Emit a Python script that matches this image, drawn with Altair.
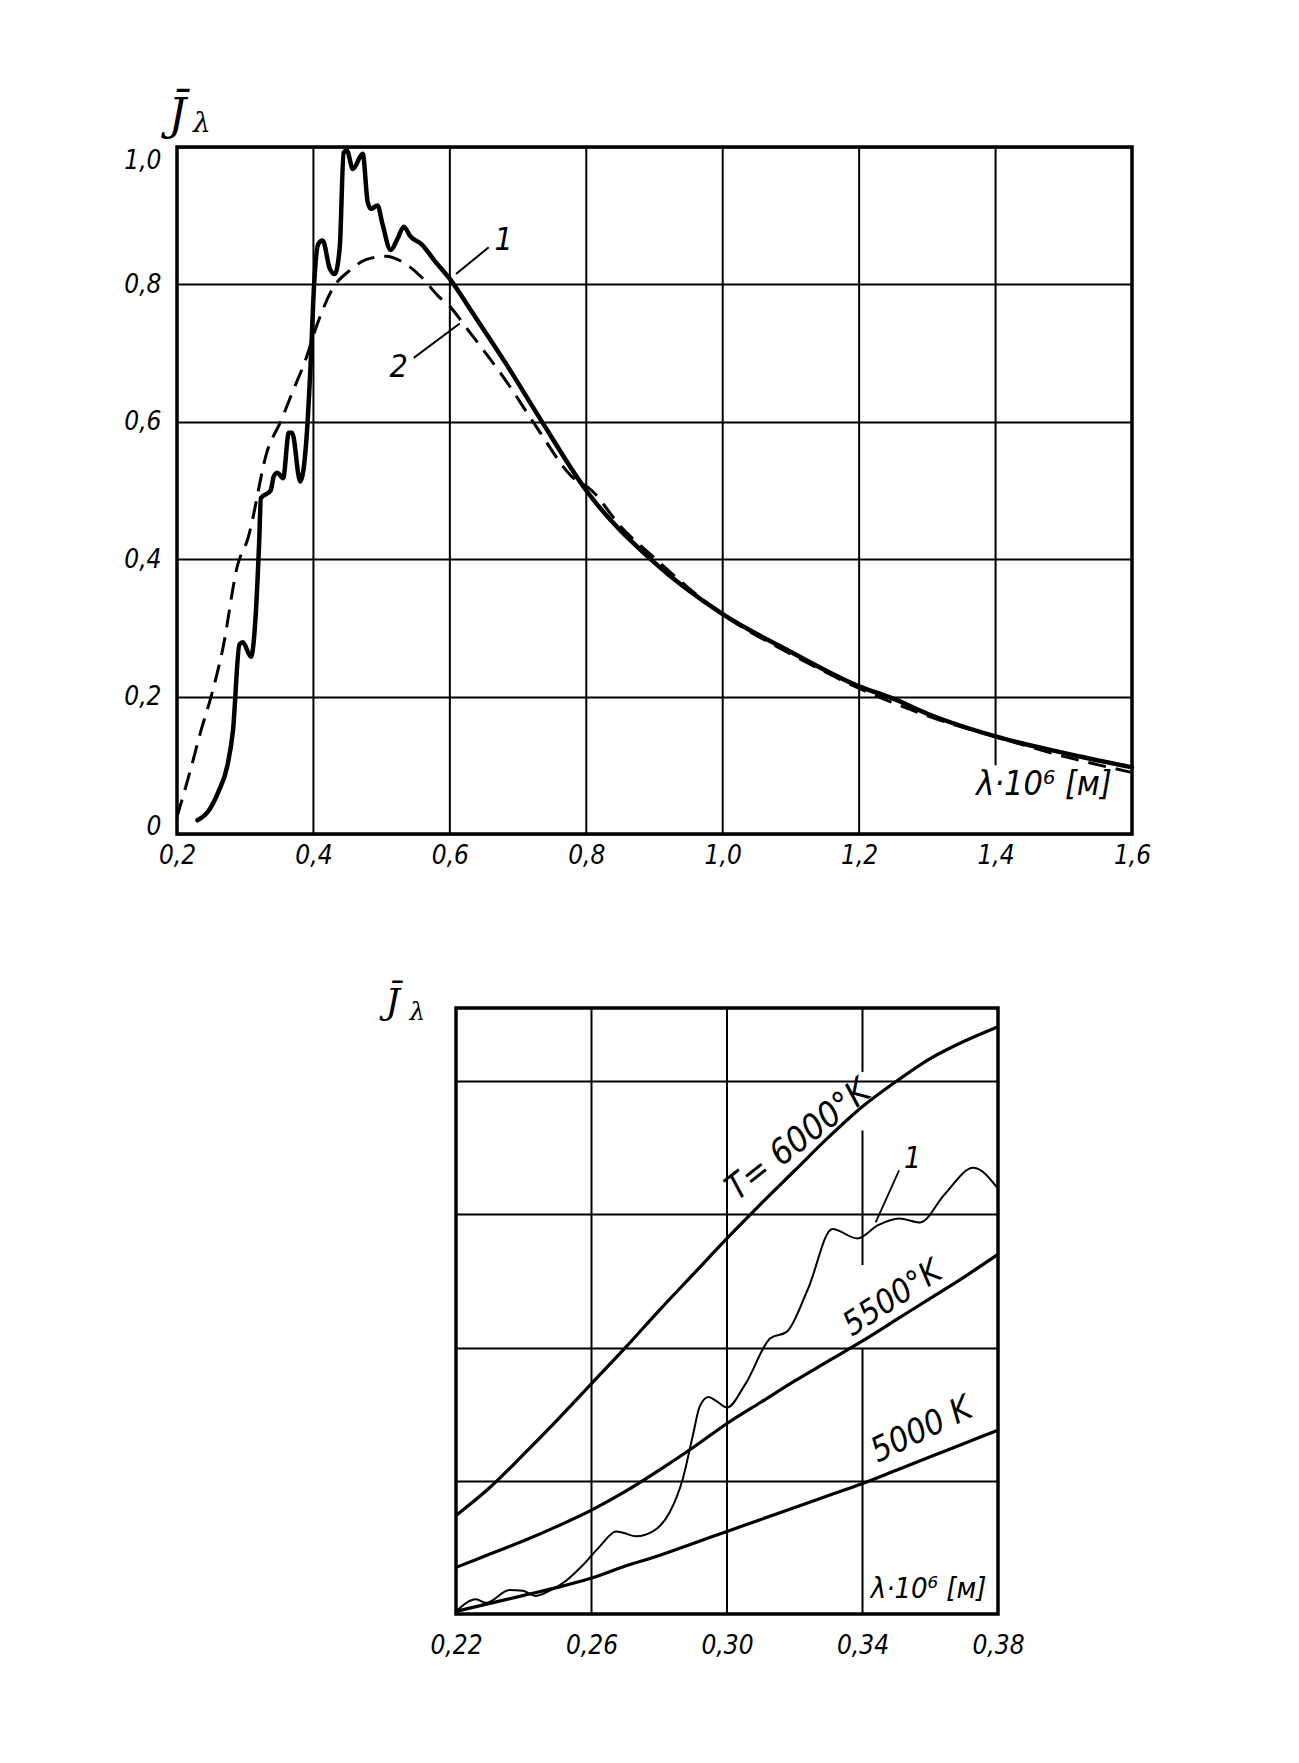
import altair as alt
import pandas as pd

FONT = "DejaVu Sans Condensed, DejaVu Sans, sans-serif"
SERIF = "DejaVu Serif, serif"

# ---------------- top chart data (lambda*1e6 m, normalised intensity) ----------------
top_x_ticks = [0.2, 0.4, 0.6, 0.8, 1.0, 1.2, 1.4, 1.6]
top_y_ticks = [0.0, 0.2, 0.4, 0.6, 0.8, 1.0]
# inner vertical grid lines (the 1.4 line stops above the axis caption)
top_vgrid_x = [0.4, 0.6, 0.8, 1.0, 1.2, 1.4]
top_vgrid_lo = [0.0, 0.0, 0.0, 0.0, 0.0, 0.10]
top_vgrid_hi = [1.0, 1.0, 1.0, 1.0, 1.0, 1.0]

solid_x = [0.230, 0.245, 0.260, 0.274, 0.282, 0.2916, 0.2964, 0.3084, 0.3157, 0.3205,
           0.323, 0.3373, 0.342, 0.347, 0.3556, 0.3639, 0.3687, 0.3807, 0.3904, 0.3961,
           0.401, 0.4072, 0.4135, 0.424, 0.4313, 0.4386, 0.4443, 0.449, 0.4578, 0.4723,
           0.4795, 0.4843, 0.494, 0.5012, 0.5133, 0.523, 0.5325, 0.542, 0.559, 0.578,
           0.600, 0.631, 0.682, 0.732, 0.800, 0.900, 1.000, 1.100, 1.200, 1.250,
           1.300, 1.400, 1.500, 1.600]
solid_y = [0.020, 0.032, 0.060, 0.100, 0.150, 0.276, 0.279, 0.258, 0.324, 0.426,
           0.489, 0.500, 0.521, 0.526, 0.518, 0.584, 0.584, 0.513, 0.584, 0.689,
           0.800, 0.859, 0.864, 0.823, 0.815, 0.854, 0.992, 0.995, 0.968, 0.990,
           0.920, 0.910, 0.915, 0.888, 0.850, 0.866, 0.884, 0.870, 0.858, 0.834,
           0.808, 0.762, 0.685, 0.605, 0.500, 0.395, 0.320, 0.265, 0.215, 0.197,
           0.175, 0.142, 0.118, 0.097]

dash_x = [0.200, 0.220, 0.235, 0.250, 0.267, 0.289, 0.3036, 0.3325, 0.3518, 0.370,
          0.388, 0.4048, 0.4289, 0.453, 0.477, 0.506, 0.530, 0.559, 0.583, 0.600,
          0.6217, 0.682, 0.730, 0.778, 0.808, 0.850, 0.901, 0.950, 1.004, 1.100,
          1.200, 1.300, 1.409, 1.500, 1.598]
dash_y = [0.025, 0.094, 0.150, 0.200, 0.269, 0.392, 0.429, 0.558, 0.600, 0.645,
          0.689, 0.740, 0.795, 0.820, 0.836, 0.841, 0.833, 0.810, 0.783, 0.768,
          0.740, 0.660, 0.588, 0.521, 0.500, 0.448, 0.401, 0.358, 0.317, 0.262,
          0.212, 0.172, 0.139, 0.113, 0.090]

top_labels = ["1", "2"]
top_label_x = [0.679, 0.525]
top_label_y = [0.864, 0.680]
top_leader_x = [0.657, 0.547]
top_leader_y = [0.854, 0.693]
top_leader_x2 = [0.609, 0.6145]
top_leader_y2 = [0.815, 0.743]

# ---------------- bottom chart data ----------------
bot_x_ticks = [0.22, 0.26, 0.30, 0.34, 0.38]
bot_y_grid = [1, 2, 3, 4]
# inner vertical grid segments (the 0.34 line is broken around the captions)
bot_vgrid_x = [0.26, 0.30, 0.34, 0.34, 0.34]
bot_vgrid_lo = [0.0, 0.0, 0.0, 2.62, 4.07]
bot_vgrid_hi = [4.55, 4.55, 2.0, 3.63, 4.55]

temp_x = [0.22, 0.23, 0.24, 0.25, 0.26, 0.27, 0.28, 0.29, 0.30, 0.31, 0.32, 0.33,
          0.34, 0.35, 0.36, 0.37, 0.38]
t6000 = [0.74, 0.95, 1.20, 1.46, 1.73, 2.00, 2.28, 2.55, 2.82, 3.08, 3.33, 3.58,
         3.81, 4.00, 4.17, 4.30, 4.41]
t5500 = [0.35, 0.45, 0.55, 0.66, 0.78, 0.92, 1.08, 1.25, 1.43, 1.59, 1.75, 1.90,
         2.05, 2.21, 2.37, 2.53, 2.70]
t5000 = [0.02, 0.08, 0.14, 0.20, 0.27, 0.36, 0.44, 0.53, 0.62, 0.71, 0.80, 0.89,
         0.98, 1.08, 1.18, 1.28, 1.38]

meas_x = [0.2200, 0.2259, 0.2289, 0.2358, 0.2397, 0.2436, 0.2476, 0.2525, 0.2574,
          0.2624, 0.2673, 0.2693, 0.2732, 0.2781, 0.2830, 0.2870, 0.2900, 0.2919,
          0.2945, 0.2968, 0.3000, 0.3055, 0.3128, 0.3177, 0.3239, 0.3311, 0.3385,
          0.3446, 0.3508, 0.3570, 0.3642, 0.3727, 0.3801]
meas_y = [0.02, 0.11, 0.084, 0.18, 0.174, 0.136, 0.174, 0.25, 0.366,
          0.506, 0.62, 0.61, 0.583, 0.62, 0.76, 1.02, 1.35, 1.555,
          1.63, 1.60, 1.55, 1.73, 2.07, 2.12, 2.44, 2.89, 2.82,
          2.92, 2.97, 2.94, 3.15, 3.35, 3.19]

bot_labels = ["T= 6000°K", "5500°K", "5000 K"]
bot_label_x = [0.3210, 0.3489, 0.3575]
bot_label_y = [3.56, 2.37, 1.38]
bot_label_angle = [322, 327, 334]
bot_label_size = [35, 33, 34]

# ---------------- helpers ----------------
def ax(values, fmt, show=True, pad=8, grid=True, size=26, **extra):
    kw = dict(values=values, grid=grid, ticks=False, domain=False, title=None,
              labelFont=FONT, labelFontSize=size, labelFontStyle="italic",
              labelColor="black", labelPadding=pad, labelFlush=False, labelOverlap=False)
    if grid:
        kw.update(gridColor="black", gridWidth=2, gridOpacity=1)
    if show:
        kw["labelExpr"] = fmt
    else:
        kw["labels"] = False
    kw.update(extra)
    return alt.Axis(**kw)


def text_layer(df, xs, ys, font, size, **extra):
    return alt.Chart(df).mark_text(
        font=font, fontSize=size, fontStyle="italic", color="black", **extra
    ).encode(x=alt.X("x:Q", scale=xs), y=alt.Y("y:Q", scale=ys), text="t:N")


# ---------------- top chart ----------------
xs_top = alt.Scale(domain=[0.2, 1.6], nice=False, zero=False)
ys_top = alt.Scale(domain=[0.0, 1.0], nice=False, zero=False)

top_df_solid = pd.DataFrame({"x": solid_x, "y": solid_y})
top_df_dash = pd.DataFrame({"x": dash_x, "y": dash_y})

y_baseline = {
    "condition": [
        {"test": "datum.value >= 0.99", "value": "top"},
        {"test": "datum.value <= 0.01", "value": "alphabetic"},
    ],
    "value": "middle",
}

top_axes = alt.Chart(top_df_solid).mark_line(opacity=0).encode(
    x=alt.X("x:Q", scale=xs_top,
            axis=ax(top_x_ticks, "replace(format(datum.value,'.1f'),'.',',')", pad=8, grid=False)),
    y=alt.Y("y:Q", scale=ys_top,
            axis=ax(top_y_ticks,
                    "datum.value == 0 ? '0' : replace(format(datum.value,'.1f'),'.',',')",
                    pad=16, labelBaseline=y_baseline)),
)

top_vgrid = alt.Chart(pd.DataFrame({"x": top_vgrid_x, "y": top_vgrid_lo, "y2": top_vgrid_hi})).mark_rule(
    color="black", strokeWidth=2).encode(
    x=alt.X("x:Q", scale=xs_top), y=alt.Y("y:Q", scale=ys_top), y2="y2:Q")

top_dash = alt.Chart(top_df_dash).mark_line(
    color="black", strokeWidth=3, strokeDash=[18, 10], interpolate="monotone"
).encode(x=alt.X("x:Q", scale=xs_top), y=alt.Y("y:Q", scale=ys_top))

top_solid = alt.Chart(top_df_solid).mark_line(
    color="black", strokeWidth=4.5, interpolate="monotone", strokeJoin="round", strokeCap="round"
).encode(x=alt.X("x:Q", scale=xs_top), y=alt.Y("y:Q", scale=ys_top))

top_lead = alt.Chart(pd.DataFrame({"x": top_leader_x, "y": top_leader_y,
                                   "x2": top_leader_x2, "y2": top_leader_y2})).mark_rule(
    color="black", strokeWidth=2).encode(
    x=alt.X("x:Q", scale=xs_top), y=alt.Y("y:Q", scale=ys_top), x2="x2:Q", y2="y2:Q")

top_lab = text_layer(pd.DataFrame({"x": top_label_x, "y": top_label_y, "t": top_labels}),
                     xs_top, ys_top, FONT, 32)
top_unit = text_layer(pd.DataFrame({"x": [1.471], "y": [0.072], "t": ["λ·10⁶ [м]"]}),
                      xs_top, ys_top, FONT, 34)
top_J = text_layer(pd.DataFrame({"x": [0.2005], "y": [1.044], "t": ["J\u0304"]}),
                   xs_top, ys_top, SERIF, 44)
top_L = text_layer(pd.DataFrame({"x": [0.2365], "y": [1.033], "t": ["λ"]}),
                   xs_top, ys_top, SERIF, 28)

top = alt.layer(top_axes, top_vgrid, top_dash, top_solid, top_lead, top_lab, top_unit,
                top_J, top_L).properties(width=955, height=687)

# ---------------- bottom chart ----------------
xs_b = alt.Scale(domain=[0.22, 0.38], nice=False, zero=False)
ys_b = alt.Scale(domain=[0.0, 4.55], nice=False, zero=False)

temp_df = pd.DataFrame({
    "x": temp_x * 3,
    "y": t6000 + t5500 + t5000,
    "T": ["6000"] * len(temp_x) + ["5500"] * len(temp_x) + ["5000"] * len(temp_x),
})
meas_df = pd.DataFrame({"x": meas_x, "y": meas_y})

b_axes = alt.Chart(meas_df).mark_line(opacity=0).encode(
    x=alt.X("x:Q", scale=xs_b,
            axis=ax(bot_x_ticks, "replace(format(datum.value,'.2f'),'.',',')", pad=18, grid=False)),
    y=alt.Y("y:Q", scale=ys_b, axis=ax(bot_y_grid, "", show=False)),
)
b_vgrid = alt.Chart(pd.DataFrame({"x": bot_vgrid_x, "y": bot_vgrid_lo, "y2": bot_vgrid_hi})).mark_rule(
    color="black", strokeWidth=2).encode(
    x=alt.X("x:Q", scale=xs_b), y=alt.Y("y:Q", scale=ys_b), y2="y2:Q")

b_temp = alt.Chart(temp_df).mark_line(color="black", strokeWidth=3.2, interpolate="monotone").encode(
    x=alt.X("x:Q", scale=xs_b), y=alt.Y("y:Q", scale=ys_b), detail="T:N")
b_meas = alt.Chart(meas_df).mark_line(color="black", strokeWidth=2, interpolate="monotone").encode(
    x=alt.X("x:Q", scale=xs_b), y=alt.Y("y:Q", scale=ys_b))

b_labs = [
    text_layer(pd.DataFrame({"x": [bot_label_x[i]], "y": [bot_label_y[i]], "t": [bot_labels[i]]}),
               xs_b, ys_b, FONT, bot_label_size[i], angle=bot_label_angle[i])
    for i in range(len(bot_labels))
]

b_one = text_layer(pd.DataFrame({"x": [0.3548], "y": [3.42], "t": ["1"]}), xs_b, ys_b, FONT, 30)
b_lead = alt.Chart(pd.DataFrame({"x": [0.3508], "y": [3.33], "x2": [0.3439], "y2": [2.94]})).mark_rule(
    color="black", strokeWidth=1.8).encode(
    x=alt.X("x:Q", scale=xs_b), y=alt.Y("y:Q", scale=ys_b), x2="x2:Q", y2="y2:Q")

b_unit = text_layer(pd.DataFrame({"x": [0.3595], "y": [0.19], "t": ["λ·10⁶ [м]"]}),
                    xs_b, ys_b, FONT, 29)
b_J = text_layer(pd.DataFrame({"x": [0.2013], "y": [4.59], "t": ["J\u0304"]}), xs_b, ys_b, SERIF, 36)
b_L = text_layer(pd.DataFrame({"x": [0.2086], "y": [4.52], "t": ["λ"]}), xs_b, ys_b, SERIF, 25)

bottom = alt.layer(b_axes, b_vgrid, b_temp, b_meas, *b_labs, b_one, b_lead, b_unit,
                   b_J, b_L).properties(width=542, height=606)

spacer = alt.Chart(pd.DataFrame({"v": [0]})).mark_text(text="").encode(
    x=alt.value(0), y=alt.value(0)
).properties(width=206, height=606, view=alt.ViewBackground(stroke=None))

chart = alt.vconcat(
    top,
    alt.hconcat(spacer, bottom, spacing=0),
    spacing=112,
    padding={"left": 114, "top": 85, "right": 5, "bottom": 5},
    background="white",
).configure_view(stroke="black", strokeWidth=3.5)

chart.save("out.html", embed_options={"renderer": "svg", "actions": False})
